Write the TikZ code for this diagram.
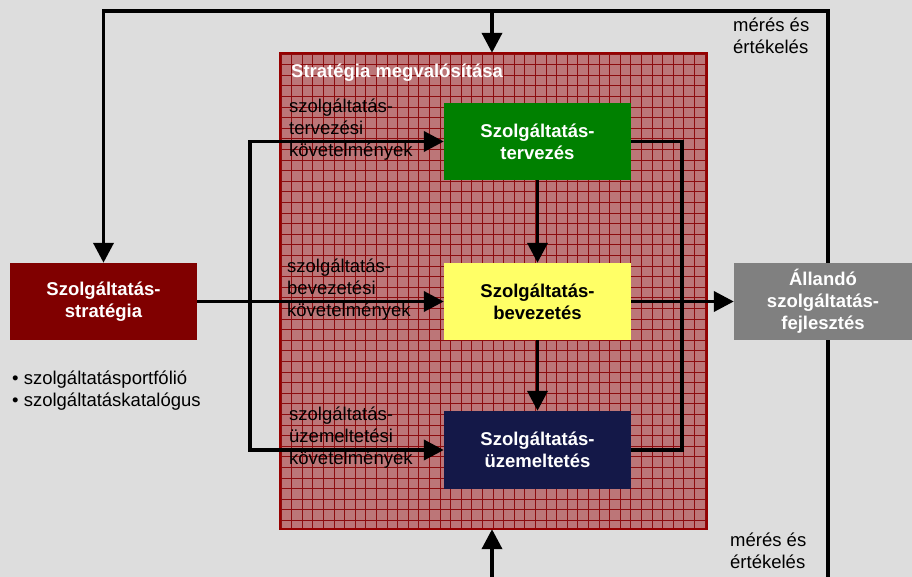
\documentclass[tikz,border=0pt]{standalone}
\usepackage{fontspec}
\setmainfont{Liberation Sans}
\usetikzlibrary{arrows.meta}

\definecolor{bg}{RGB}{221,221,221}
\definecolor{implfill}{RGB}{188,118,120}
\definecolor{implgrid}{RGB}{140,12,14}
\definecolor{implborder}{RGB}{150,0,0}
\definecolor{stratred}{RGB}{128,0,0}
\definecolor{plangreen}{RGB}{0,128,0}
\definecolor{transyellow}{RGB}{255,255,102}
\definecolor{opnavy}{RGB}{20,24,72}
\definecolor{improvegray}{RGB}{128,128,128}

\tikzset{
  every node/.style={font=\fontsize{18.5}{22}\selectfont},
  procbox/.style={draw=none, minimum width=187pt, minimum height=77pt,
    align=center, inner sep=0pt, font=\fontsize{18.5}{22}\selectfont\bfseries},
  flow/.style={line width=3.8pt, line join=miter},
  flowarrow/.style={flow, -{Triangle[length=20pt, width=20pt]}},
  lbl/.style={align=left, anchor=west, inner sep=0pt}
}

\begin{document}
\begin{tikzpicture}[x=1pt, y=-1pt]
  % canvas
  \fill[bg] (0,0) rectangle (912,577);
  \useasboundingbox (0,0) rectangle (912,577);

  % strategy implementation area with grid texture
  \node[draw=none, fill=implfill, minimum width=427pt, minimum height=476pt,
        inner sep=0pt] (impl) at (493.5,291) {};
  \begin{scope}
    \clip (impl.south west) rectangle (impl.north east);
    \foreach \gx in {0,...,41}
      \draw[implgrid, line width=0.9pt] (281+10.6*\gx,53) -- (281+10.6*\gx,529);
    \foreach \gy in {0,...,45}
      \draw[implgrid, line width=0.9pt] (280,54+10.6*\gy) -- (707,54+10.6*\gy);
  \end{scope}
  \draw[implborder, line width=2pt] (impl.south west) rectangle (impl.north east);
  \node[lbl, text=white, font=\fontsize{18.5}{22}\selectfont\bfseries]
    (impltitle) at (291,73) {Stratégia megvalósítása};

  % process boxes
  \node[procbox, fill=stratred, text=white] (strat) at (103.5,301.5)
    {Szolgáltatás-\\stratégia};
  \node[procbox, fill=plangreen, text=white] (terv) at (537.5,141.5)
    {Szolgáltatás-\\tervezés};
  \node[procbox, fill=transyellow, text=black] (bevez) at (537.5,301.5)
    {Szolgáltatás-\\bevezetés};
  \node[procbox, fill=opnavy, text=white, minimum height=78pt] (uzem) at (537.5,450)
    {Szolgáltatás-\\üzemeltetés};
  \node[procbox, fill=improvegray, text=white, minimum width=178pt] (allando) at (823,301.5)
    {Állandó\\szolgáltatás-\\fejlesztés};

  % text labels
  \node[lbl] (lterv) at (289,130) {szolgáltatás-\\tervezési\\követelmények};
  \node[lbl] (lbevez) at (287,290) {szolgáltatás-\\bevezetési\\követelmények};
  \node[lbl] (luzem) at (289,438) {szolgáltatás-\\üzemeltetési\\követelmények};
  \node[lbl] (outputs) at (12,391) {• szolgáltatásportfólió\\• szolgáltatáskatalógus};
  \node[lbl] (meres1) at (733,36) {mérés és\\értékelés};
  \node[lbl] (meres2) at (730,551) {mérés és\\értékelés};

  % feedback loop coordinates
  \coordinate (loopright) at (828,11);
  \coordinate (loopjoin) at (492,11);
  \coordinate (bottomright) at (828,582);
  \coordinate (bottomin) at (492,582);
  \coordinate (leftbus) at (250,301.5);
  \coordinate (rightbus) at (682,301.5);

  % measurement and evaluation loop
  \draw[flowarrow] (allando.north -| loopright) -- (loopright) -| (strat.north);
  \draw[flowarrow] (loopjoin) -- (loopjoin |- impl.north);
  \draw[flow] (allando.south -| bottomright) -- (bottomright);
  \draw[flowarrow] (bottomin) -- (bottomin |- impl.south);

  % requirements flow
  \draw[flowarrow] (strat.east) -- (bevez.west);
  \draw[flowarrow] (leftbus) |- (terv.west);
  \draw[flowarrow] (leftbus) |- (uzem.west);

  % lifecycle flow
  \draw[flowarrow] (terv.south) -- (bevez.north);
  \draw[flowarrow] (bevez.south) -- (uzem.north);
  \draw[flow] (terv.east) -| (rightbus) |- (uzem.east);
  \draw[flowarrow] (bevez.east) -- (allando.west);
\end{tikzpicture}
\end{document}
